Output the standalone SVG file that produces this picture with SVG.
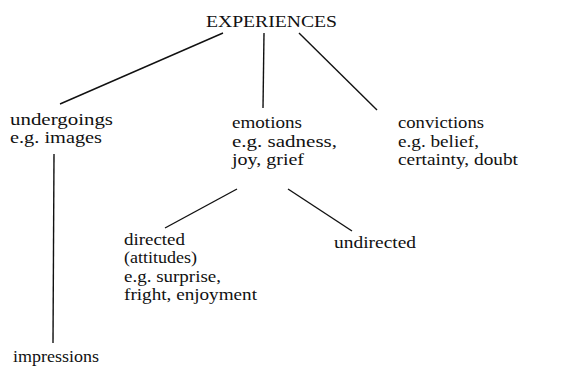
<svg xmlns="http://www.w3.org/2000/svg" width="585" height="368" viewBox="0 0 585 368">
<style>
.c line{stroke:#111;stroke-width:1.4;fill:none}
</style>
<rect width="585" height="368" fill="#fff"/>
<g class="c" id="connectors">
<line x1="223" y1="33" x2="60" y2="104"/>
<line x1="264" y1="33" x2="263" y2="108"/>
<line x1="299" y1="33" x2="377" y2="110"/>
<line x1="54" y1="154" x2="53" y2="343"/>
<line x1="237" y1="189" x2="165" y2="228"/>
<line x1="288" y1="189" x2="352" y2="231"/>
</g>
<g font-family="Liberation Serif, Times New Roman, serif" font-size="17" fill="#111">
<g id="experiences"><text x="206" y="27" textLength="131" lengthAdjust="spacingAndGlyphs">EXPERIENCES</text></g>
<g id="undergoings"><text x="10" y="125" textLength="103" lengthAdjust="spacingAndGlyphs">undergoings</text><text x="10" y="143" textLength="92" lengthAdjust="spacingAndGlyphs">e.g. images</text></g>
<g id="emotions"><text x="232" y="128" textLength="70" lengthAdjust="spacingAndGlyphs">emotions</text><text x="232" y="147" textLength="105" lengthAdjust="spacingAndGlyphs">e.g. sadness,</text><text x="232" y="165" textLength="72" lengthAdjust="spacingAndGlyphs">joy, grief</text></g>
<g id="convictions"><text x="398" y="128" textLength="86" lengthAdjust="spacingAndGlyphs">convictions</text><text x="398" y="147" textLength="81" lengthAdjust="spacingAndGlyphs">e.g. belief,</text><text x="398" y="165" textLength="120" lengthAdjust="spacingAndGlyphs">certainty, doubt</text></g>
<g id="directed"><text x="124" y="245" textLength="61" lengthAdjust="spacingAndGlyphs">directed</text><text x="124" y="263" textLength="73" lengthAdjust="spacingAndGlyphs">(attitudes)</text><text x="124" y="282" textLength="97" lengthAdjust="spacingAndGlyphs">e.g. surprise,</text><text x="124" y="300" textLength="133" lengthAdjust="spacingAndGlyphs">fright, enjoyment</text></g>
<g id="undirected"><text x="334" y="248" textLength="82" lengthAdjust="spacingAndGlyphs">undirected</text></g>
<g id="impressions"><text x="13" y="362" textLength="86" lengthAdjust="spacingAndGlyphs">impressions</text></g>
</g>
</svg>
